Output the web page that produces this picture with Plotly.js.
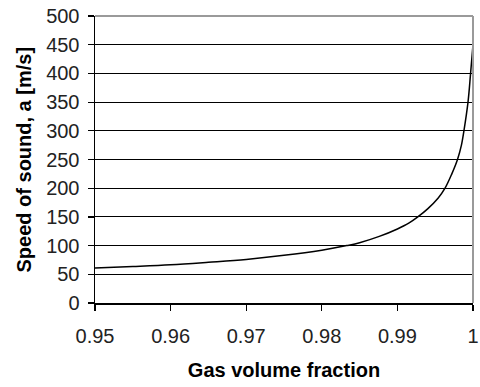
<!DOCTYPE html>
<html>
<head>
<meta charset="utf-8">
<script src="https://cdn.plot.ly/plotly-3.0.1.min.js"></script>
<style>
  html, body { margin: 0; padding: 0; background: #fff; }
  #chart { width: 480px; height: 387px; }
</style>
</head>
<body>
<div id="chart"></div>
<script>
// Speed of sound in a gas-liquid mixture versus gas volume fraction
const gasFraction = [0.95, 0.955, 0.96, 0.965, 0.97, 0.975, 0.98, 0.9833, 0.985, 0.9876,
                     0.99, 0.9915, 0.9927, 0.994, 0.9954, 0.9963, 0.9972, 0.99795, 0.99847,
                     0.9988, 0.99934, 0.99968, 1.0];
const soundSpeed  = [61, 63.5, 66.5, 71, 76, 83, 92, 100, 105, 116,
                     129, 139, 150, 164, 183, 200, 225, 250, 275,
                     300, 350, 400, 450];

const xTickVals = [0.95, 0.96, 0.97, 0.98, 0.99, 1.0];
const xTickText = ['0.95', '0.96', '0.97', '0.98', '0.99', '1'];
const yTickVals = [0, 50, 100, 150, 200, 250, 300, 350, 400, 450, 500];

const xTitle = 'Gas volume fraction';
const yTitle = 'Speed of sound, a [m/s]';

const FONT = 'Liberation Sans, Arial, sans-serif';

const trace = {
  x: gasFraction,
  y: soundSpeed,
  type: 'scatter',
  mode: 'lines',
  line: { color: '#000', width: 1.5, shape: 'spline', smoothing: 1 },
  hoverinfo: 'skip'
};

const layout = {
  width: 480,
  height: 387,
  margin: { l: 95, r: 7, t: 16, b: 84 },
  paper_bgcolor: '#fff',
  plot_bgcolor: '#fff',
  showlegend: false,
  font: { family: FONT, size: 20, color: '#222' },
  xaxis: {
    range: [0.95, 1.0],
    tickvals: xTickVals,
    ticktext: xTickText,
    ticks: 'outside',
    ticklen: 6,
    tickwidth: 1.2,
    tickcolor: '#000',
    ticklabelstandoff: 8,
    showgrid: false,
    zeroline: false,
    showline: true,
    linecolor: '#000',
    linewidth: 1.5,
    tickfont: { family: FONT, size: 20, color: '#222' },
    title: { text: '<b>' + xTitle + '</b>', font: { family: FONT, size: 20, color: '#000' }, standoff: 17 }
  },
  yaxis: {
    range: [0, 500],
    tickvals: yTickVals,
    ticks: 'outside',
    ticklen: 6,
    tickwidth: 1.2,
    tickcolor: '#000',
    ticklabelstandoff: 4,
    showgrid: true,
    gridcolor: '#000',
    gridwidth: 1,
    zeroline: false,
    showline: true,
    linecolor: '#000',
    linewidth: 1.5,
    tickfont: { family: FONT, size: 20, color: '#222' }
  },
  annotations: [
    // vertical axis title, placed close to the left edge
    { text: '<b>' + yTitle + '</b>', xref: 'paper', yref: 'paper', x: 0, y: 0.5,
      xanchor: 'center', yanchor: 'middle', xshift: -72, textangle: -90, showarrow: false,
      font: { family: FONT, size: 20, color: '#000' } }
  ],
  shapes: [
    // grey frame on the top and right edges of the plot area
    { type: 'line', xref: 'paper', yref: 'paper', x0: 0, x1: 1, y0: 1, y1: 1,
      line: { color: '#9a9a9a', width: 2 } },
    { type: 'line', xref: 'paper', yref: 'paper', x0: 1, x1: 1, y0: 0, y1: 1,
      line: { color: '#9a9a9a', width: 2 } }
  ]
};

Plotly.newPlot('chart', [trace], layout, { displayModeBar: false, staticPlot: true });
</script>
</body>
</html>
